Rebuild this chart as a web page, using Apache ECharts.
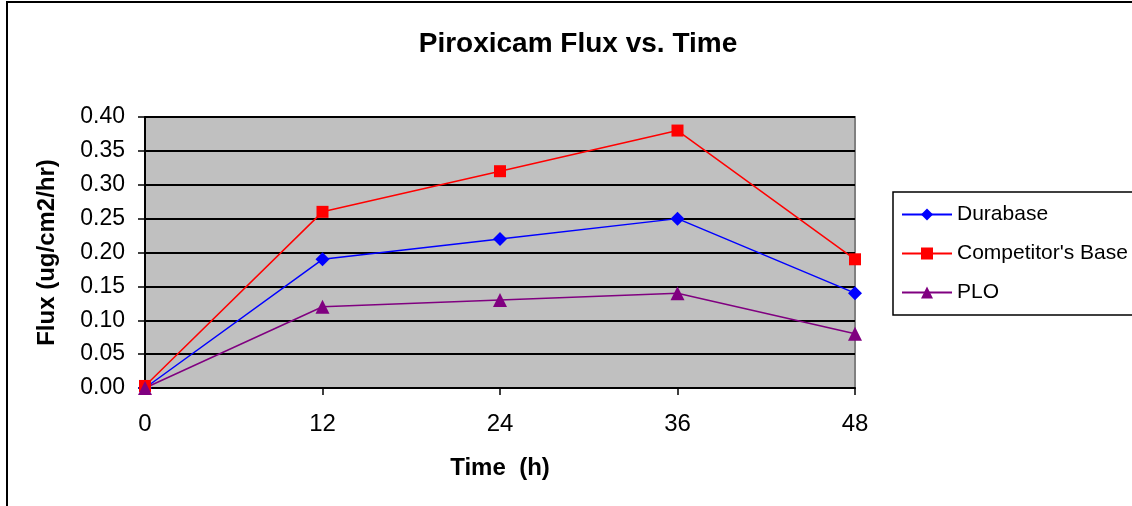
<!DOCTYPE html>
<html>
<head>
<meta charset="utf-8">
<script src="https://cdn.jsdelivr.net/npm/echarts@6/dist/echarts.min.js"></script>
<style>
  html, body { margin: 0; padding: 0; background: #fff; }
  #chart { width: 1132px; height: 506px; }
</style>
</head>
<body>
<div id="chart"></div>
<script>
// time points (h)
const hours = [0, 12, 24, 36, 48]
const durabase = [0.0, 0.19, 0.22, 0.25, 0.14]
const competitor = [0.003, 0.26, 0.32, 0.38, 0.19]
const plo = [0.0, 0.12, 0.13, 0.14, 0.08]

const font = 'Liberation Sans, Arial, sans-serif'

function pairs(vals) {
  return hours.map((h, i) => [h, vals[i]])
}

function makeSeries(name, vals, color, symbol, size) {
  return {
    name: name,
    type: 'line',
    data: pairs(vals),
    symbol: symbol,
    symbolSize: size,
    animation: false,
    itemStyle: { color: color },
    lineStyle: { color: color, width: 1.5 }
  }
}

const chart = echarts.init(document.getElementById('chart'))
chart.setOption({
  backgroundColor: '#fff',
  title: {
    text: 'Piroxicam Flux vs. Time',
    left: 573,
    textAlign: 'center',
    top: 25,
    textStyle: { fontFamily: font, fontSize: 28, fontWeight: 'bold', color: '#000' }
  },
  graphic: [{
    type: 'rect',
    shape: { x: 7, y: 2, width: 1140, height: 530 },
    style: { fill: 'none', stroke: '#000', lineWidth: 2 },
    silent: true
  }],
  grid: {
    left: 145,
    right: 277,
    top: 117,
    bottom: 118,
    show: true,
    backgroundColor: '#c0c0c0',
    borderColor: '#808080',
    borderWidth: 2
  },
  legend: {
    orient: 'vertical',
    left: 893,
    top: 192,
    padding: [12, 40, 12, 8],
    itemWidth: 50,
    itemHeight: 15,
    itemGap: 18,
    borderColor: '#000',
    borderWidth: 1.5,
    textStyle: { fontFamily: font, fontSize: 21, color: '#000' },
    data: ['Durabase', "Competitor's Base", 'PLO']
  },
  xAxis: {
    type: 'value',
    min: 0,
    max: 48,
    interval: 12,
    name: 'Time  (h)',
    nameLocation: 'middle',
    nameGap: 68,
    nameTextStyle: { fontFamily: font, fontSize: 24, fontWeight: 'bold', color: '#000' },
    axisLine: { show: true, lineStyle: { color: '#000', width: 2 } },
    axisTick: { show: true, inside: false, length: 7, lineStyle: { color: '#000', width: 1.5 } },
    axisLabel: { fontFamily: font, fontSize: 24, color: '#000', margin: 24 },
    splitLine: { show: false }
  },
  yAxis: {
    type: 'value',
    min: 0,
    max: 0.4,
    interval: 0.05,
    name: 'Flux (ug/cm2/hr)',
    nameLocation: 'middle',
    nameGap: 86,
    nameTextStyle: { fontFamily: font, fontSize: 24, fontWeight: 'bold', color: '#000' },
    axisLine: { show: true, lineStyle: { color: '#000', width: 2 } },
    axisTick: { show: true, inside: false, length: 7, lineStyle: { color: '#000', width: 1.5 } },
    axisLabel: {
      fontFamily: font, fontSize: 23, color: '#000', margin: 20,
      formatter: v => v.toFixed(2)
    },
    splitLine: { show: true, lineStyle: { color: '#000', width: 2 } }
  },
  series: [
    makeSeries('Durabase', durabase, '#0000ff', 'diamond', 14),
    makeSeries("Competitor's Base", competitor, '#ff0000', 'rect', 12),
    makeSeries('PLO', plo, '#800080', 'triangle', 14)
  ]
})
</script>
</body>
</html>
